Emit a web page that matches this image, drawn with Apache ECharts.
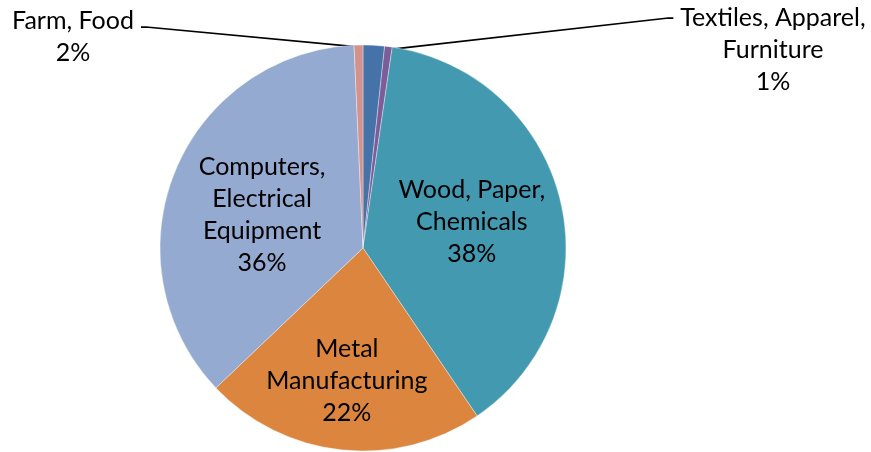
<!DOCTYPE html>
<html>
<head>
<meta charset="utf-8">
<script src="https://cdn.jsdelivr.net/npm/echarts@6/dist/echarts.min.js"></script>
<style>html,body{margin:0;padding:0;background:#fff;}#c{width:871px;height:452px;}</style>
</head>
<body>
<div id="c"></div>
<script>
const categories = ['Farm, Food', 'Textiles, Apparel,\nFurniture', 'Wood, Paper,\nChemicals', 'Metal\nManufacturing', 'Computers,\nElectrical\nEquipment', 'Other'];
const values = [1.7, 0.6, 38.2, 22.4, 36.4, 0.7];
const colors = ['#4573a8', '#7d5c9a', '#4299b0', '#dc853f', '#95aad1', '#d4928f'];

// label placement (layout only)
const outsideLabels = { 0: { x: 73, y: 37, lineDy: 6 }, 1: { x: 773, y: 50, lineDy: 0 } };
const insideShift = { 2: [7, -3], 3: [-5, 29], 4: [-4, 6] };
const hiddenLabel = { 5: true };

const chart = echarts.init(document.getElementById('c'), null, { renderer: 'canvas' });
const font = "Lato, 'Liberation Sans', sans-serif";
const baseLabel = { fontFamily: font, fontSize: 25, lineHeight: 32, align: 'center' };

const mainData = categories.map((name, i) => ({
  name, value: values[i],
  itemStyle: { color: colors[i] },
  label: { show: !hiddenLabel[i], position: outsideLabels[i] ? 'outside' : 'inside' },
  labelLine: { show: false }
}));

const guideData = categories.map((name, i) => ({
  name, value: values[i],
  label: { show: !!outsideLabels[i] },
  labelLine: { show: !!outsideLabels[i] }
}));

chart.setOption({
  animation: false,
  series: [{
    type: 'pie',
    center: [363, 248],
    radius: 203,
    startAngle: 90,
    clockwise: true,
    avoidLabelOverlap: false,
    percentPrecision: 2,
    itemStyle: { borderColor: 'rgba(255,255,255,0.6)', borderWidth: 0.6 },
    label: Object.assign({}, baseLabel, {
      color: '#000',
      formatter: p => p.name + '\n' + Math.round(p.percent) + '%'
    }),
    labelLayout: function (params) {
      const i = params.dataIndex;
      if (outsideLabels[i]) {
        return { x: outsideLabels[i].x, y: outsideLabels[i].y, align: 'center', verticalAlign: 'middle' };
      }
      if (insideShift[i]) return { dx: insideShift[i][0], dy: insideShift[i][1] };
      return {};
    },
    data: mainData
  }, {
    type: 'pie',
    silent: true,
    center: [363, 248],
    radius: 200,
    startAngle: 90,
    clockwise: true,
    avoidLabelOverlap: false,
    itemStyle: { color: 'rgba(0,0,0,0)', borderWidth: 0 },
    label: Object.assign({}, baseLabel, {
      position: 'outside',
      color: 'rgba(0,0,0,0)',
      padding: [0, 7, 0, 7],
      formatter: p => p.name.split('\n')[0]
    }),
    labelLine: { length: 20, length2: 5, lineStyle: { color: '#000', width: 1.75 } },
    labelLayout: function (params) {
      const i = params.dataIndex;
      const o = outsideLabels[i];
      if (o) {
        const lines = categories[i].split('\n').length + 1;
        const top = o.y - lines * 32 / 2;
        return { x: o.x, y: top + 16 + o.lineDy, align: 'center', verticalAlign: 'middle' };
      }
      return {};
    },
    data: guideData
  }]
});
</script>
</body>
</html>
